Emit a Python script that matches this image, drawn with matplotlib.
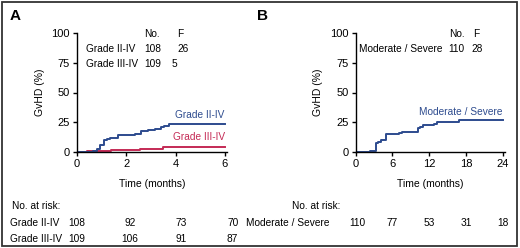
import matplotlib
matplotlib.use('Agg')
import matplotlib.pyplot as plt
from matplotlib.transforms import blended_transform_factory
from matplotlib.patches import Rectangle

plt.rcParams['font.family'] = ['Liberation Sans', 'DejaVu Sans']
plt.rcParams['font.size'] = 7

BLUE = '#2d4b8e'
RED = '#c42a55'
NARROW = ['Liberation Sans Narrow', 'Liberation Sans', 'DejaVu Sans']

# panel A: cumulative incidence, acute GvHD
a_t2 = [0, 0.65, 0.8, 0.95, 1.1, 1.2, 1.36, 1.65, 2.35, 2.6, 2.9, 3.15, 3.4, 3.52, 3.72, 6]
a_v2 = [0, 0.5, 2.5, 6, 9.8, 11.2, 12, 14.2, 15, 17.3, 18.5, 19.2, 20.7, 22, 23.2, 23.2]
a_t3 = [0, 0.4, 1.4, 2.55, 3.5, 6]
a_v3 = [0, 0.9, 1.8, 2.8, 4.6, 4.6]
a_ticks = [0, 2, 4, 6]
a_risk2 = [108, 92, 73, 70]
a_risk3 = [109, 106, 91, 87]

# panel B: chronic GvHD
b_t = [0, 2.3, 3.27, 3.7, 4.2, 4.87, 6.9, 7.1, 7.6, 10.1, 10.5, 10.9, 12.8, 13.3, 16.8, 24]
b_v = [0, 1, 7.5, 8.5, 10, 15, 15, 16, 17.2, 20, 21, 22.4, 23.5, 25.2, 26.5, 26.5]
b_ticks = [0, 6, 12, 18, 24]
b_risk = [110, 77, 53, 31, 18]

W, H = 520, 248
fig = plt.figure(figsize=(W / 100, H / 100), dpi=100)
fig.patches.append(Rectangle((1.5 / W, 2 / H), 515 / W, 244 / H, transform=fig.transFigure,
                             fill=False, edgecolor='#333333', lw=1.3))


def px_axes(x0, x1, y0, y1):
    return fig.add_axes([x0 / W, 1 - y1 / H, (x1 - x0) / W, (y1 - y0) / H])


def style(ax, xmax, ticks):
    ax.set_xlim(0, xmax * 1.015)
    ax.set_ylim(0, 100)
    ax.set_xticks(ticks)
    ax.set_yticks([0, 25, 50, 75, 100])
    for s in ['top', 'right']:
        ax.spines[s].set_visible(False)
    for s in ['left', 'bottom']:
        ax.spines[s].set_linewidth(1.0)
    ax.tick_params(length=3, width=1, pad=2, labelsize=8)
    ax.set_ylabel('GvHD (%)', family=NARROW, fontsize=7.5, labelpad=5)
    ax.set_xlabel('Time (months)', family=NARROW, fontsize=7.5, labelpad=7)


axA = px_axes(77, 227, 33, 152)
style(axA, 6, a_ticks)
axA.step(a_t3, a_v3, where='post', color=RED, lw=1.4)
axA.step(a_t2, a_v2, where='post', color=BLUE, lw=1.4)
axA.text(6, 26.5, 'Grade II-IV', color=BLUE, ha='right', va='bottom', fontsize=7.3)
axA.text(6, 8, 'Grade III-IV', color=RED, ha='right', va='bottom', fontsize=7.3)

axB = px_axes(355.7, 505, 33, 152)
style(axB, 24, b_ticks)
axB.step(b_t, b_v, where='post', color=BLUE, lw=1.4)
axB.text(24, 29.5, 'Moderate / Severe', color=BLUE, ha='right', va='bottom', fontsize=7.3)

fig.text(10 / W, 1 - 16 / H, 'A', fontsize=11, fontweight='bold', va='center')
fig.text(257 / W, 1 - 16 / H, 'B', fontsize=11, fontweight='bold', va='center')


def ftext(x, y, s, **kw):
    fig.text(x / W, 1 - y / H, s, va='center', fontsize=7.3, **kw)


# number / events block
ftext(144, 34, 'No.')
ftext(177, 34, 'F')
ftext(86, 49, 'Grade II-IV')
ftext(144, 49, '108')
ftext(177, 49, '26')
ftext(86, 64, 'Grade III-IV')
ftext(144, 64, '109')
ftext(172, 64, '5')

ftext(449, 34, 'No.')
ftext(473, 34, 'F')
ftext(359, 49, 'Moderate / Severe')
ftext(448, 49, '110')
ftext(471, 49, '28')

# risk tables
ROWS = [206, 223, 239]
ftext(12, ROWS[0], 'No. at risk:')
ftext(10, ROWS[1], 'Grade II-IV')
ftext(10, ROWS[2], 'Grade III-IV')
trA = blended_transform_factory(axA.transData, fig.transFigure)
for t, r2, r3 in zip(a_ticks, a_risk2, a_risk3):
    axA.text(t + 0.08 * (1 + t / 2) if t else 0, 1 - ROWS[1] / H, str(r2), transform=trA,
             ha='center', va='center', fontsize=7.3)
    axA.text(t + 0.08 * (1 + t / 2) if t else 0, 1 - ROWS[2] / H, str(r3), transform=trA,
             ha='center', va='center', fontsize=7.3)

ftext(340, ROWS[0], 'No. at risk:', ha='right')
ftext(330, ROWS[1], 'Moderate / Severe', ha='right')
trB = blended_transform_factory(axB.transData, fig.transFigure)
for t, r in zip(b_ticks, b_risk):
    axB.text(t + 0.2 if t == 0 else t, 1 - ROWS[1] / H, str(r), transform=trB,
             ha='center', va='center', fontsize=7.3)

fig.savefig('out.png', dpi=100)
